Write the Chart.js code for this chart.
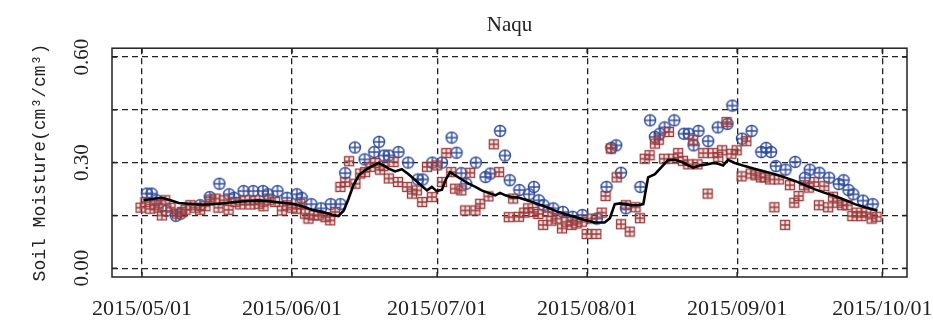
<!DOCTYPE html>
<html>
<head>
<meta charset="utf-8">
<script src="https://cdn.jsdelivr.net/npm/chart.js@4.4.0/dist/chart.umd.min.js"></script>
<style>
  html, body { margin: 0; padding: 0; background: #fff; }
</style>
</head>
<body>
<canvas id="myChart" width="933" height="323"></canvas>
<script>
// days counted from 2015/05/01
var monthDays = [0, 31, 61, 92, 123, 153];
var monthLabels = ['2015/05/01', '2015/06/01', '2015/07/01', '2015/08/01', '2015/09/01', '2015/10/01'];
var yTicks = [0, 0.15, 0.30, 0.45, 0.60];
var yTickLabels = ['0.00', '', '0.30', '', '0.60'];

// station average (black line)
var lineDays = [0.3, 1.4, 2.8, 4.1, 5.9, 7.6, 9.6, 11.7, 13.8, 15.8, 17.9, 20, 22, 24.1, 26.2, 28.2, 31, 33.1, 35.1, 37.2,
  39.3, 40.6, 41.7, 42.7, 43.7, 44.8, 46.1, 47.5, 48.9, 49.9, 51, 52.3, 53.7, 55.1, 56.5, 57.9, 58.9, 59.9, 60.9, 62,
  62.7, 63.7, 64.7, 66.1, 67.5, 68.9, 70.2, 71.6, 73, 74, 75.1, 76.4, 77.8, 80.5, 83.3, 86, 88.8, 91.5, 93.6, 95.6,
  96.7, 97.7, 98.8, 99.8, 101.2, 102.5, 103.6, 104.6, 106, 107.4, 108.7, 110.1, 111.5, 112.9, 113.9, 115.3, 116.7, 118.1, 119.1, 120.1,
  121.1, 122.5, 124.6, 126.7, 128.7, 130.8, 132.8, 134.9, 137, 139.1, 141.1, 143.2, 145.4, 147.3, 149.4, 152];
var lineVals = [0.193, 0.195, 0.198, 0.200, 0.193, 0.185, 0.183, 0.181, 0.181, 0.183, 0.186, 0.189, 0.191, 0.192, 0.190, 0.187, 0.183, 0.176, 0.166, 0.160,
  0.152, 0.148, 0.164, 0.198, 0.236, 0.264, 0.278, 0.290, 0.299, 0.292, 0.283, 0.275, 0.281, 0.267, 0.250, 0.233, 0.221, 0.231, 0.219, 0.223,
  0.250, 0.273, 0.264, 0.252, 0.240, 0.231, 0.221, 0.214, 0.207, 0.214, 0.207, 0.202, 0.201, 0.189, 0.175, 0.160, 0.148, 0.137, 0.130, 0.130,
  0.142, 0.182, 0.184, 0.182, 0.179, 0.179, 0.182, 0.258, 0.267, 0.288, 0.307, 0.308, 0.302, 0.292, 0.286, 0.292, 0.295, 0.299, 0.297, 0.292,
  0.308, 0.299, 0.290, 0.282, 0.275, 0.267, 0.258, 0.248, 0.236, 0.224, 0.214, 0.205, 0.193, 0.182, 0.173, 0.163];

// blue circles
var blueDays = [1, 2, 3, 5, 7, 8, 12, 14, 16, 18, 19, 21, 23, 25, 26, 28, 30, 32, 33, 35,
  37, 39, 41, 42, 44, 46, 48, 49, 50, 51, 53, 55, 57, 58, 60, 62, 64, 65, 66, 67,
  69, 71, 72, 74, 75, 76, 78, 80, 81, 82, 83, 85, 87, 89, 91, 94, 96, 97, 98, 99,
  100, 103, 105, 106, 107, 108, 110, 112, 113, 114, 115, 117, 119, 121, 122, 124, 126, 128, 129, 130,
  131, 133, 135, 137, 138, 140, 142, 144, 145, 146, 147, 149, 151];
var blueVals = [0.212, 0.212, 0.193, 0.163, 0.149, 0.155, 0.179, 0.202, 0.240, 0.210, 0.200, 0.219, 0.219, 0.219, 0.210, 0.219, 0.200, 0.210, 0.200, 0.182,
  0.170, 0.182, 0.182, 0.270, 0.343, 0.309, 0.330, 0.359, 0.320, 0.320, 0.330, 0.300, 0.252, 0.252, 0.300, 0.300, 0.371, 0.328, 0.270, 0.240,
  0.300, 0.259, 0.269, 0.390, 0.320, 0.250, 0.222, 0.210, 0.231, 0.193, 0.179, 0.170, 0.160, 0.146, 0.151, 0.141, 0.231, 0.342, 0.349, 0.271,
  0.170, 0.231, 0.420, 0.373, 0.382, 0.400, 0.420, 0.382, 0.382, 0.349, 0.390, 0.361, 0.400, 0.410, 0.462, 0.368, 0.390, 0.330, 0.342, 0.330,
  0.290, 0.280, 0.302, 0.257, 0.280, 0.271, 0.257, 0.239, 0.250, 0.222, 0.210, 0.192, 0.182];

// red squares
var redDays = [-0.3, 0.7, 1.7, 2.6, 3.4, 4.1, 4.8, 5.9, 7.2, 8.3, 9, 10, 11, 12, 13.1, 14.1, 15.2, 15.8, 16.9, 17.9,
  19.3, 20.3, 21.3, 22.4, 23.4, 24.1, 25.1, 26.2, 27.5, 28.9, 30, 31, 32, 32.7, 33.7, 34.4, 35.5, 36.5, 37.9, 38.9,
  39.9, 41, 42, 42.8, 44.1, 45.1, 46.1, 47.2, 48.2, 49.2, 49.9, 51, 52, 52.9, 54.8, 55.8, 56.8, 57.9, 58.9, 59.9,
  60.9, 62, 62.9, 63.9, 64.7, 66, 66.8, 67.8, 68.9, 69.9, 71.6, 72.7, 73.8, 75.8, 76.7, 77.9, 79, 79.8, 80.9, 81.9,
  82.9, 83.9, 84.6, 85.7, 86.8, 87.7, 88.8, 89.8, 90.9, 91.9, 92.9, 93.9, 95, 95.8, 96.9, 98.1, 99, 100, 100.8, 102,
  102.9, 103.9, 104.9, 106, 106.8, 107.9, 108.9, 109.8, 110.8, 111.8, 112.9, 113.9, 114.8, 116, 116.9, 118, 119.1, 119.9, 120.8, 121.8,
  122.9, 123.9, 124.9, 125.8, 126.8, 127.9, 128.7, 129.8, 130.7, 131.6, 132.9, 133.9, 134.8, 135.7, 136.8, 137.8, 138.9, 139.9, 141, 141.8,
  142.8, 143.7, 144.7, 145.8, 146.8, 147.7, 148.7, 149.7, 150.8, 151.8];
var redVals = [0.172, 0.188, 0.169, 0.179, 0.172, 0.150, 0.193, 0.172, 0.155, 0.160, 0.166, 0.179, 0.172, 0.166, 0.176, 0.195, 0.198, 0.172, 0.193, 0.166,
  0.188, 0.181, 0.193, 0.181, 0.193, 0.183, 0.176, 0.193, 0.188, 0.164, 0.179, 0.172, 0.169, 0.183, 0.155, 0.141, 0.150, 0.150, 0.145, 0.136,
  0.160, 0.231, 0.245, 0.304, 0.240, 0.269, 0.273, 0.288, 0.299, 0.280, 0.290, 0.255, 0.302, 0.245, 0.231, 0.212, 0.221, 0.188, 0.288, 0.202,
  0.292, 0.245, 0.327, 0.273, 0.226, 0.221, 0.164, 0.271, 0.164, 0.183, 0.204, 0.352, 0.273, 0.145, 0.198, 0.146, 0.158, 0.170, 0.160, 0.154,
  0.123, 0.160, 0.135, 0.141, 0.113, 0.132, 0.123, 0.127, 0.132, 0.097, 0.141, 0.097, 0.158, 0.205, 0.340, 0.258, 0.125, 0.179, 0.104, 0.173,
  0.142, 0.311, 0.321, 0.354, 0.365, 0.311, 0.387, 0.311, 0.327, 0.305, 0.295, 0.365, 0.295, 0.327, 0.212, 0.327, 0.316, 0.335, 0.415, 0.325,
  0.335, 0.261, 0.361, 0.269, 0.264, 0.258, 0.258, 0.252, 0.173, 0.252, 0.123, 0.236, 0.186, 0.205, 0.236, 0.229, 0.245, 0.179, 0.233, 0.173,
  0.203, 0.186, 0.179, 0.179, 0.148, 0.158, 0.148, 0.158, 0.141, 0.146];

function pairs(xs, ys) {
  return xs.map(function (x, i) { return { x: x, y: ys[i] }; });
}

// marker glyphs: circle with a plus, square with a cross
function circlePlus(color) {
  var c = document.createElement('canvas');
  c.width = 14; c.height = 14;
  var g = c.getContext('2d');
  g.strokeStyle = color;
  g.lineWidth = 1.4;
  g.beginPath(); g.arc(7, 7, 5.5, 0, Math.PI * 2); g.stroke();
  g.beginPath();
  g.moveTo(1.5, 7); g.lineTo(12.5, 7);
  g.moveTo(7, 1.5); g.lineTo(7, 12.5);
  g.stroke();
  return c;
}
function squareCross(color) {
  var c = document.createElement('canvas');
  c.width = 12; c.height = 12;
  var g = c.getContext('2d');
  g.fillStyle = 'rgba(190,110,110,0.18)';
  g.fillRect(1, 1, 10, 10);
  g.strokeStyle = color;
  g.lineWidth = 1.3;
  g.strokeRect(1.5, 1.5, 9, 9);
  g.beginPath();
  g.moveTo(6, 1.5); g.lineTo(6, 10.5);
  g.moveTo(1.5, 6); g.lineTo(10.5, 6);
  g.stroke();
  return c;
}

// solid frame round the plot plus small inward ticks
var framePlugin = {
  id: 'frame',
  afterDraw: function (chart) {
    var a = chart.chartArea, ctx = chart.ctx;
    var xs = chart.scales.x, ys = chart.scales.y;
    ctx.save();
    ctx.strokeStyle = '#222';
    ctx.lineWidth = 1.5;
    ctx.strokeRect(a.left, a.top, a.right - a.left, a.bottom - a.top);
    ctx.beginPath();
    monthDays.forEach(function (d) {
      var px = xs.getPixelForValue(d);
      ctx.moveTo(px, a.top); ctx.lineTo(px, a.top + 5);
      ctx.moveTo(px, a.bottom); ctx.lineTo(px, a.bottom - 5);
    });
    yTicks.forEach(function (v) {
      var py = ys.getPixelForValue(v);
      ctx.moveTo(a.left, py); ctx.lineTo(a.left + 5, py);
      ctx.moveTo(a.right, py); ctx.lineTo(a.right - 5, py);
    });
    ctx.stroke();
    ctx.restore();
  }
};

var ctx = document.getElementById('myChart').getContext('2d');
var myChart = new Chart(ctx, {
  type: 'scatter',
  data: {
    datasets: [
      {
        label: 'In situ',
        data: pairs(lineDays, lineVals),
        showLine: true,
        borderColor: '#000',
        borderWidth: 2.6,
        pointRadius: 0,
        fill: false
      },
      {
        label: 'Product B',
        data: pairs(redDays, redVals),
        pointStyle: squareCross('#9c3a3a'),
        pointRadius: 6
      },
      {
        label: 'Product A',
        data: pairs(blueDays, blueVals),
        pointStyle: circlePlus('#2f4c9e'),
        pointRadius: 7
      }
    ]
  },
  options: {
    responsive: false,
    animation: false,
    layout: { padding: { top: 0, right: 26, bottom: 0, left: 0 } },
    plugins: {
      legend: { display: false },
      tooltip: { enabled: false },
      title: {
        display: true,
        text: 'Naqu',
        fullSize: false,
        color: '#222',
        font: { family: 'Liberation Serif', size: 21, weight: 'normal' },
        padding: { top: 13, bottom: 10 }
      }
    },
    scales: {
      x: {
        type: 'linear',
        min: -6.2,
        max: 158.1,
        afterBuildTicks: function (scale) {
          scale.ticks = monthDays.map(function (d) { return { value: d }; });
        },
        afterFit: function (scale) {
          scale.height = 46;
          scale.paddingLeft = 0;
          scale.paddingRight = 0;
        },
        ticks: {
          autoSkip: false,
          maxRotation: 0,
          padding: 19,
          color: '#222',
          font: { family: 'Liberation Serif', size: 22 },
          callback: function (v) { return monthLabels[monthDays.indexOf(v)]; }
        },
        grid: { color: '#222', lineWidth: 1.3, drawTicks: false },
        border: { display: false, dash: [6, 4] }
      },
      y: {
        min: -0.025,
        max: 0.625,
        afterBuildTicks: function (scale) {
          scale.ticks = yTicks.map(function (v) { return { value: v }; });
        },
        afterFit: function (scale) { scale.width = 112; },
        ticks: {
          minRotation: 90,
          maxRotation: 90,
          crossAlign: 'center',
          padding: 11,
          color: '#222',
          font: { family: 'Liberation Serif', size: 21 },
          callback: function (v) { return yTickLabels[yTicks.indexOf(v)]; }
        },
        grid: { color: '#222', lineWidth: 1.3, drawTicks: false },
        border: { display: false, dash: [6, 4] },
        title: {
          display: true,
          text: 'Soil Moisture(cm³/cm³)',
          color: '#222',
          font: { family: 'Liberation Mono', size: 18 },
          padding: { top: 29, bottom: 0 }
        }
      }
    }
  },
  plugins: [framePlugin]
});
</script>
</body>
</html>
